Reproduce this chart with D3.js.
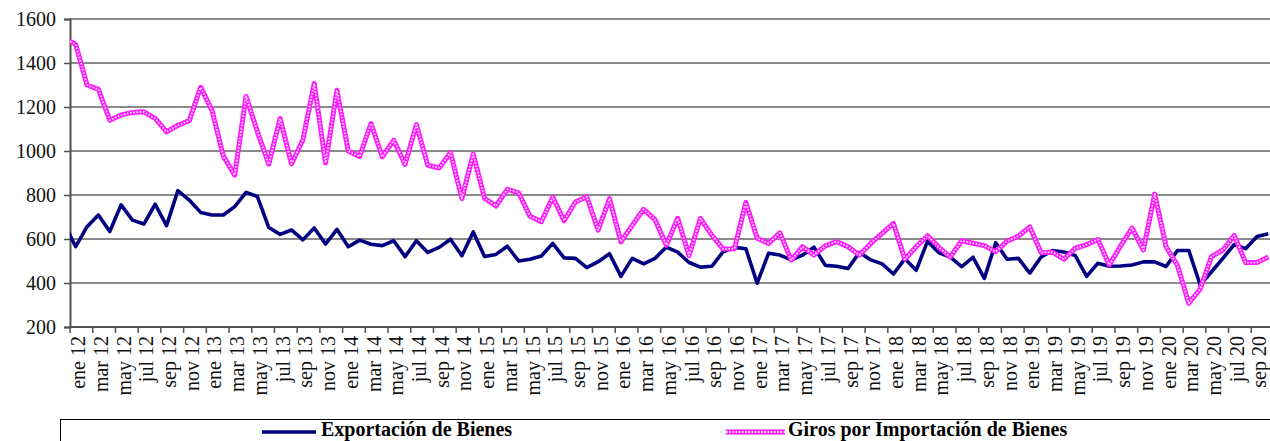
<!DOCTYPE html>
<html>
<head>
<meta charset="utf-8">
<script src="https://cdn.jsdelivr.net/npm/d3@7/dist/d3.min.js"></script>
<style>
  html, body { margin: 0; padding: 0; background: #ffffff; }
  svg { display: block; }
</style>
</head>
<body>
<svg id="chart" width="1270" height="441"></svg>
<script>
// Monthly series, in millions: first entry is December 2011 (only its segment into the plot is visible)
const meses = ["ene", "feb", "mar", "abr", "may", "jun", "jul", "ago", "sep", "oct", "nov", "dic"];
const anios = ["12", "13", "14", "15", "16", "17", "18", "19", "20"];
const mesInicial = "dic 11";
const mesesUltimoAnio = 10; // ene 20 .. oct 20

const exportacion = [
  670,
  565, 656, 709, 634, 755, 686, 668, 758, 661, 820, 777, 721,
  709, 709, 747, 812, 793, 652, 621, 641, 596, 650, 577, 644,
  565, 595, 576, 570, 592, 520, 592, 539, 562, 599, 524, 632,
  520, 530, 567, 500, 508, 523, 580, 514, 512, 470, 497, 533,
  430, 512, 487, 512, 563, 540, 493, 472, 476, 542, 562, 556,
  399, 535, 527, 505, 527, 563, 480, 476, 466, 539, 505, 487,
  441, 510, 458, 590, 537, 518, 474, 517, 421, 583, 508, 512,
  445, 518, 548, 541, 525, 430, 490, 476, 477, 482, 496, 496,
  475, 548, 548, 391, 451, 512, 575, 556, 611, 624
];

const girosImportacion = [
  1510,
  1485, 1300, 1280, 1140, 1164, 1175, 1178, 1148, 1087, 1117, 1138, 1290,
  1185, 977, 890, 1248, 1087, 940, 1148, 941, 1050, 1307, 946, 1276,
  1000, 975, 1125, 973, 1049, 939, 1120, 935, 923, 993, 784, 986,
  785, 750, 826, 810, 703, 679, 790, 683, 768, 792, 640, 784,
  587, 662, 735, 688, 572, 694, 524, 694, 618, 554, 556, 766,
  603, 580, 628, 504, 565, 527, 569, 588, 565, 527, 580, 626,
  671, 508, 565, 615, 562, 518, 592, 581, 570, 542, 590, 614,
  655, 538, 540, 508, 558, 574, 598, 482, 569, 650, 550, 804,
  565, 480, 308, 373, 520, 550, 616, 493, 493, 518
];

const yTicks = [200, 400, 600, 800, 1000, 1200, 1400, 1600];
const nombresSeries = ["Exportación de Bienes", "Giros por Importación de Bienes"];

// Category list: "dic 11", "ene 12", ..., "oct 20"
const periodos = [mesInicial];
anios.forEach((a, k) => {
  const n = k === anios.length - 1 ? mesesUltimoAnio : 12;
  for (let m = 0; m < n; m++) periodos.push(meses[m] + " " + a);
});

const svg = d3.select("#chart");
const plot = { left: 70, right: 1274, top: 19, bottom: 327 };
const nVisibles = periodos.length - 1;
const paso = (plot.right - plot.left) / nVisibles;

const x = d3.scaleBand()
  .domain(periodos)
  .range([plot.left - paso, plot.right])
  .paddingInner(0).paddingOuter(0);
const xc = d => x(d) + x.bandwidth() / 2;

const y = d3.scaleLinear().domain([200, 1600]).range([plot.bottom, plot.top]);

const serif = "'Liberation Serif', 'Times New Roman', serif";

// Horizontal gridlines
svg.append("g")
  .selectAll("line")
  .data(yTicks)
  .join("line")
  .attr("x1", plot.left).attr("x2", plot.right)
  .attr("y1", d => y(d)).attr("y2", d => y(d))
  .attr("stroke", "#8a8a8a").attr("stroke-width", 2);

// Y axis
const yAxis = svg.append("g")
  .attr("transform", `translate(${plot.left},0)`)
  .call(d3.axisLeft(y).tickValues(yTicks).tickSize(6).tickPadding(8).tickFormat(d3.format("d")));
yAxis.attr("font-family", serif).attr("font-size", 20);
yAxis.select(".domain").attr("stroke", "#505050").attr("stroke-width", 2);
yAxis.selectAll(".tick line").attr("stroke", "#505050").attr("stroke-width", 1.5);
yAxis.selectAll(".tick text").attr("fill", "#111");

// X axis: line, tick marks every two months, rotated labels
const etiquetas = periodos.slice(1).filter((d, i) => i % 2 === 0);
const gx = svg.append("g");
gx.append("line")
  .attr("x1", plot.left).attr("x2", plot.right)
  .attr("y1", plot.bottom).attr("y2", plot.bottom)
  .attr("stroke", "#505050").attr("stroke-width", 2);
gx.selectAll("line.tick")
  .data(etiquetas)
  .join("line")
  .attr("class", "tick")
  .attr("x1", d => x(d)).attr("x2", d => x(d))
  .attr("y1", plot.bottom).attr("y2", plot.bottom + 6)
  .attr("stroke", "#505050").attr("stroke-width", 1.5);
gx.selectAll("text")
  .data(etiquetas)
  .join("text")
  .attr("transform", d => `translate(${xc(d) + 9.5},${plot.bottom + 9}) rotate(-90)`)
  .attr("text-anchor", "end")
  .attr("font-family", serif).attr("font-size", 20).attr("fill", "#111")
  .text(d => d);

// Clip lines to the plot area
svg.append("clipPath").attr("id", "area")
  .append("rect")
  .attr("x", plot.left).attr("y", 0)
  .attr("width", plot.right - plot.left).attr("height", plot.bottom + 10);

const linea = vals => d3.line()
  .x((d, i) => xc(periodos[i]))
  .y(d => y(d))(vals);

const lineas = svg.append("g").attr("clip-path", "url(#area)");

lineas.append("path")
  .attr("d", linea(exportacion))
  .attr("fill", "none").attr("stroke", "#000080")
  .attr("stroke-width", 3.6).attr("stroke-linejoin", "round");

// Patterned magenta line: solid core with small light dots
lineas.append("path")
  .attr("d", linea(girosImportacion))
  .attr("fill", "none").attr("stroke", "#ff1aff")
  .attr("stroke-width", 5).attr("stroke-linejoin", "round");
lineas.append("path")
  .attr("d", linea(girosImportacion))
  .attr("fill", "none").attr("stroke", "#ffe6ff")
  .attr("stroke-width", 1.8).attr("stroke-dasharray", "1.6 1.6")
  .attr("stroke-linejoin", "round");

// Legend
const leg = svg.append("g");
leg.append("rect")
  .attr("x", 60.5).attr("y", 419.5).attr("width", 1260).attr("height", 60)
  .attr("fill", "#fff").attr("stroke", "#000").attr("stroke-width", 1);

leg.append("line")
  .attr("x1", 262).attr("x2", 316).attr("y1", 432).attr("y2", 432)
  .attr("stroke", "#000080").attr("stroke-width", 3.6);
leg.append("text")
  .attr("x", 321).attr("y", 436)
  .attr("font-family", serif).attr("font-weight", "bold").attr("font-size", 20)
  .attr("fill", "#000").text(nombresSeries[0]);

leg.append("line")
  .attr("x1", 726).attr("x2", 785).attr("y1", 432).attr("y2", 432)
  .attr("stroke", "#ff1aff").attr("stroke-width", 5);
leg.append("line")
  .attr("x1", 726).attr("x2", 785).attr("y1", 432).attr("y2", 432)
  .attr("stroke", "#ffe6ff").attr("stroke-width", 1.8).attr("stroke-dasharray", "1.6 1.6");
leg.append("text")
  .attr("x", 788).attr("y", 436)
  .attr("font-family", serif).attr("font-weight", "bold").attr("font-size", 20)
  .attr("fill", "#000").text(nombresSeries[1]);
</script>
</body>
</html>
